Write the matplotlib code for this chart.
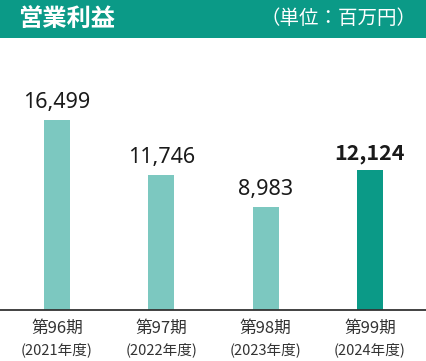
import matplotlib
matplotlib.use("Agg")
import matplotlib.pyplot as plt
from matplotlib.patches import Rectangle

plt.rcParams['font.family'] = ['Noto Sans CJK JP', 'DejaVu Sans']

title = "営業利益"
unit = "（単位：百万円）"
periods = ["第96期", "第97期", "第98期", "第99期"]
years = ["(2021年度)", "(2022年度)", "(2023年度)", "(2024年度)"]
values = [16499, 11746, 8983, 12124]
highlight = [False, False, False, True]

W, H = 426, 361
fig = plt.figure(figsize=(W / 100, H / 100), dpi=100)
fig.patch.set_facecolor("white")

# header band
fig.patches.append(Rectangle((0, 1 - 38 / H), 1, 38 / H, transform=fig.transFigure,
                             facecolor="#0b9a87", edgecolor="none", zorder=0))
fig.text(18 / W, 1 - 19 / H, title, color="white", fontsize=17.5, fontweight="bold",
         ha="left", va="center")
fig.text(417 / W, 1 - 19 / H, unit, color="white", fontsize=14,
         ha="right", va="center")

ax = fig.add_axes([0, 51 / H, 1, 270 / H])
ax.set_facecolor("none")
x = list(range(len(values)))
colors = ["#0b9a87" if h else "#7cc8c0" for h in highlight]
ax.bar(x, values, width=0.25, color=colors, zorder=2)
ax.set_xlim(-0.546, 3.537)
ax.set_ylim(0, 23445)

for i, v in enumerate(values):
    if highlight[i]:
        ax.annotate(f"{v:,}", (i, v), xytext=(0, 6), textcoords="offset pixels",
                    ha="center", va="bottom", fontsize=15.5, fontweight="bold",
                    color="#1a1a1a", family=['Noto Sans CJK JP', 'DejaVu Sans'])
    else:
        ax.annotate(f"{v:,}", (i, v), xytext=(0, 7), textcoords="offset pixels",
                    ha="center", va="bottom", fontsize=15.5, fontweight="light",
                    color="#1a1a1a", family=['Noto Sans', 'DejaVu Sans'])

for s in ["top", "right", "left"]:
    ax.spines[s].set_visible(False)
ax.spines["bottom"].set_color("#333333")
ax.spines["bottom"].set_linewidth(1.3)
ax.set_yticks([])
ax.set_xticks(x)
ax.set_xticklabels([])
ax.tick_params(axis="x", length=0)

for i in x:
    ax.annotate(periods[i], (i, 0), xytext=(0, -18), textcoords="offset pixels",
                ha="center", va="center", fontsize=12, color="#333333")
    ax.annotate(years[i], (i, 0), xytext=(0, -40), textcoords="offset pixels",
                ha="center", va="center", fontsize=10.5, color="#333333")

fig.savefig("out.png", dpi=100)
